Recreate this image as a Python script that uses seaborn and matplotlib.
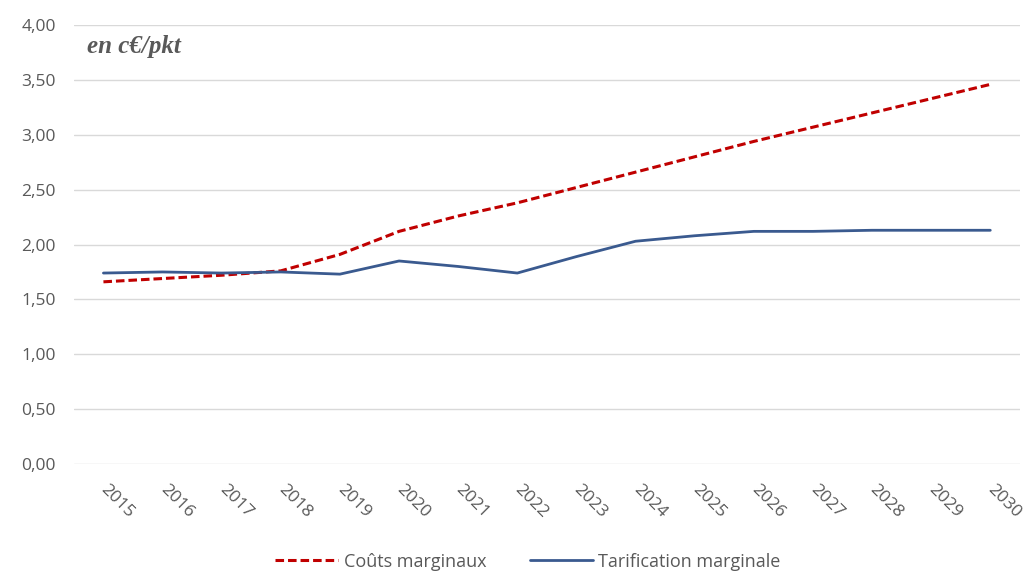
import matplotlib
matplotlib.use("Agg")
import matplotlib.pyplot as plt
import seaborn as sns

# Data
years = [str(y) for y in range(2015, 2031)]
couts_marginaux = [1.66, 1.69, 1.72, 1.76, 1.91, 2.12, 2.26, 2.38, 2.52, 2.66,
                   2.80, 2.94, 3.07, 3.20, 3.33, 3.46]
tarification_marginale = [1.74, 1.75, 1.74, 1.75, 1.73, 1.85, 1.80, 1.74, 1.89, 2.03,
                          2.08, 2.12, 2.12, 2.13, 2.13, 2.13]
y_ticks = [0, 0.5, 1.0, 1.5, 2.0, 2.5, 3.0, 3.5, 4.0]

sns.set_style("white")
plt.rcParams['font.family'] = ['Open Sans', 'DejaVu Sans']

fig = plt.figure(figsize=(10.26, 5.72), dpi=100)
ax = fig.add_axes([0.072, 0.189, 0.922, 0.767])

sns.lineplot(x=years, y=couts_marginaux, ax=ax, color='#C00000', linewidth=2.2,
             linestyle=(0, (2.8, 1.3)), label='Coûts marginaux')
sns.lineplot(x=years, y=tarification_marginale, ax=ax, color='#3A5A8F', linewidth=2.0,
             label='Tarification marginale')

ax.set_ylim(0, 4.0)
ax.set_xlim(-0.5, len(years) - 0.5)
ax.set_yticks(y_ticks)
ax.set_yticklabels([f"{v:.2f}".replace('.', ',') for v in y_ticks], color='#595959', fontsize=12.5)
ax.grid(axis='y', color='#D9D9D9', linewidth=1)
ax.set_axisbelow(True)
for s in ax.spines.values():
    s.set_visible(False)
ax.tick_params(axis='y', length=0, pad=13)
ax.tick_params(axis='x', length=0, pad=17)
plt.setp(ax.get_xticklabels(), rotation=-45, ha='left', rotation_mode='anchor',
         color='#595959', fontsize=12.5)
for lbl in ax.get_xticklabels():
    lbl.set_verticalalignment('center')

ax.text(0.014, 0.977, 'en c€/pkt', transform=ax.transAxes, fontsize=18,
        fontstyle='italic', fontweight='bold', family='Liberation Serif',
        color='#595959', va='top', ha='left')

ax.legend(loc='upper center', bbox_to_anchor=(0.48, -0.165), ncol=2, frameon=False,
          fontsize=13, handlelength=3.5, handletextpad=0.3, columnspacing=2.4,
          labelcolor='#595959')

fig.savefig('out.png', dpi=100)
